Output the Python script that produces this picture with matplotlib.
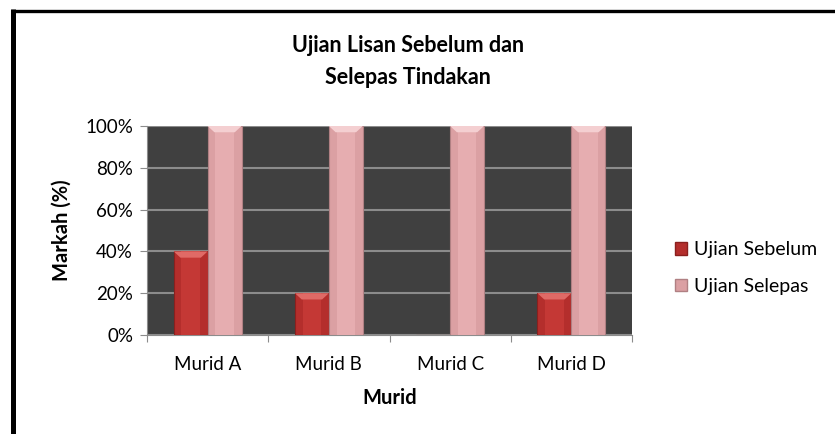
import matplotlib
matplotlib.use("Agg")
import matplotlib.pyplot as plt
import numpy as np
from matplotlib.lines import Line2D
from matplotlib.patches import Patch, Polygon

categories = ["Murid A", "Murid B", "Murid C", "Murid D"]
sebelum = [40, 20, 0, 20]
selepas = [100, 100, 100, 100]
series_names = ["Ujian Sebelum", "Ujian Selepas"]
yticks = [0, 20, 40, 60, 80, 100]
ytick_labels = ["0%", "20%", "40%", "60%", "80%", "100%"]

plt.rcParams['font.family'] = ['Lato', 'DejaVu Sans']

W, H = 835, 434
fig = plt.figure(figsize=(W/100, H/100), dpi=100)
ax = fig.add_axes([147/W, 1-335/H, (632-147)/W, (335-126)/H])
ax.set_facecolor('#404040')

x = np.arange(len(categories))
bw = 0.28
red = '#b42e2c'
pink = '#dba0a3'
red_in = '#c43835'
pink_in = '#e6adb0'
red_top = '#e06a66'
pink_top = '#f4cfd1'

bars_r = ax.bar(x - bw/2, sebelum, bw, color=red, edgecolor='#8a201e', linewidth=0.8, zorder=3)
bars_p = ax.bar(x + bw/2, selepas, bw, color=pink, edgecolor='#b08083', linewidth=0.8, zorder=3)
ax.bar(x - bw/2, sebelum, bw*0.55, color=red_in, linewidth=0, zorder=4)
ax.bar(x + bw/2, selepas, bw*0.55, color=pink_in, linewidth=0, zorder=4)

# bevel on top of each bar
bev = 3.0
for bars, top in ((bars_r, red_top), (bars_p, pink_top)):
    for b in bars:
        h = b.get_height()
        if h <= 0:
            continue
        x0, w = b.get_x(), b.get_width()
        poly = Polygon([(x0, h), (x0 + w, h), (x0 + w*0.8, h - bev), (x0 + w*0.2, h - bev)],
                       closed=True, facecolor=top, edgecolor='none', zorder=5, clip_on=False)
        ax.add_patch(poly)

ax.set_xlim(-0.5, len(categories) - 0.5)
ax.set_ylim(0, 100)
ax.set_yticks(yticks)
ax.set_yticklabels(ytick_labels, fontsize=13.5)
ax.yaxis.grid(True, color='#8c8c8c', linewidth=1.5, zorder=1)
ax.set_axisbelow(True)
ax.set_xticks(np.arange(-0.5, len(categories), 1.0))
ax.set_xticklabels([])
ax.set_xticks(x, minor=True)
ax.set_xticklabels(categories, minor=True, fontsize=13.5)
ax.tick_params(axis='x', which='minor', length=0, pad=15)
ax.tick_params(axis='x', which='major', length=5, color='#8c8c8c')
ax.tick_params(axis='y', length=5, color='#8c8c8c', pad=5)
for s in ['top', 'right']:
    ax.spines[s].set_visible(False)
ax.spines['left'].set_color('#8c8c8c')
ax.spines['bottom'].set_color('#8c8c8c')

ax.set_xlabel('Murid', fontsize=14.5, fontweight='bold', labelpad=11)
ax.set_ylabel('Markah (%)', fontsize=14.5, fontweight='bold', labelpad=10)

fig.text(408/W, 1-46/H, 'Ujian Lisan Sebelum dan', ha='center', va='center',
         fontsize=15.5, fontweight='bold')
fig.text(408/W, 1-78/H, 'Selepas Tindakan', ha='center', va='center',
         fontsize=15.5, fontweight='bold')

handles = [Patch(facecolor=red, edgecolor='#8a201e'), Patch(facecolor=pink, edgecolor='#b08083')]
fig.legend(handles, series_names, loc='center left', bbox_to_anchor=(675/W, 1-268/H),
           frameon=False, fontsize=14, handlelength=0.6, handleheight=0.6,
           labelspacing=1.0, handletextpad=0.4, borderaxespad=0, borderpad=0)

fig.add_artist(Line2D([12.5/W, 12.5/W], [0, 1-9/H], color='black', linewidth=3.6,
                      transform=fig.transFigure, solid_capstyle='butt'))
fig.add_artist(Line2D([10.7/W, 1.0], [1-11/H, 1-11/H], color='black', linewidth=2.4,
                      transform=fig.transFigure, solid_capstyle='butt'))

fig.savefig('out.png', dpi=100)
